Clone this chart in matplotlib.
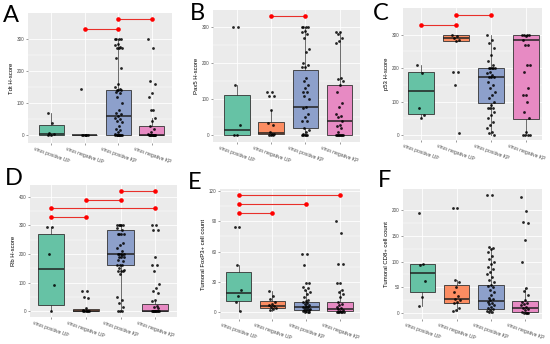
import numpy as np
import matplotlib.pyplot as plt

groups = ["virus positive UP", "virus negative UP", "virus positive KP", "virus negative KP"]
colors = ["#66C2A5", "#FC8D62", "#8DA0CB", "#E78AC3"]

# A - Tdt H-score
tdt_pts = [
    [70, 38, 8, 4, 1, 0],
    [145, 0, 0, 0, 0, 0, 0],
    [300, 300, 300, 300, 285, 280, 275, 270, 270, 270, 240, 210, 160, 150, 145, 140, 140, 140,
     135, 130, 120, 100, 80, 70, 65, 60, 55, 50, 45, 40, 30, 20, 15, 10, 5, 2, 0, 0, 0, 0, 0, 0, 0, 0],
    [300, 270, 170, 160, 130, 120, 80, 80, 55, 45, 30, 20, 10, 5, 2, 0, 0, 0, 0, 0, 0, 0, 0, 0, 0],
]
tdt_box = [(0, 5, 32, 0, 70), (0, 0, 0, 0, 0), (2, 60, 141, 0, 300), (0, 2, 30, 0, 55)]
tdt_sig = [(2, 3, 330), (3, 4, 360)]

# B - Pax5 H-score
pax5_pts = [
    [300, 300, 140, 30, 0, 0],
    [120, 120, 110, 110, 70, 35, 30, 10, 5, 5, 0, 0, 0],
    [300, 300, 300, 300, 290, 285, 280, 270, 240, 230, 200, 195, 190, 190, 160, 150, 140, 130,
     120, 120, 110, 100, 80, 75, 60, 50, 40, 40, 20, 15, 10, 5, 0, 0, 0, 0, 0],
    [285, 285, 280, 270, 260, 255, 160, 155, 150, 140, 120, 90, 80, 60, 55, 50, 40, 30, 25, 20,
     10, 0, 0, 0, 0, 0, 0, 0, 0],
]
pax5_box = [(0, 15, 113, 0, 140), (3, 8, 38, 0, 70), (20, 80, 180, 0, 300), (0, 40, 140, 0, 285)]
pax5_sig = [(2, 3, 330)]

# C - p53 H-score
p53_pts = [
    [210, 185, 80, 60, 50],
    [300, 295, 290, 285, 280, 190, 190, 150, 5],
    [300, 285, 275, 260, 240, 220, 210, 200, 200, 200, 200, 200, 190, 185, 180, 175, 175, 175,
     160, 150, 140, 130, 120, 110, 100, 90, 80, 80, 80, 70, 60, 50, 40, 30, 20, 10, 5, 0],
    [300, 300, 300, 300, 295, 285, 270, 270, 210, 210, 190, 140, 120, 120, 100, 70, 50, 10,
     0, 0, 0, 0],
]
p53_box = [(63, 132, 188, 50, 210), (280, 290, 300, 280, 300), (95, 175, 200, 0, 300), (48, 285, 300, 0, 300)]
p53_sig = [(1, 2, 330), (2, 3, 360)]

# D - Rb H-score
rb_pts = [
    [295, 295, 200, 93, 0],
    [70, 70, 50, 45, 10, 5, 0, 0, 0, 0, 0, 0],
    [300, 300, 300, 300, 300, 290, 285, 270, 270, 270, 270, 240, 230, 220, 210, 200, 200, 200,
     200, 195, 190, 190, 190, 180, 175, 160, 160, 160, 150, 145, 140, 140, 140, 130, 50, 40, 30,
     15, 0, 0, 0],
    [300, 300, 285, 285, 190, 160, 160, 140, 95, 80, 70, 65, 40, 35, 20, 15, 10,
     0, 0, 0, 0, 0, 0, 0, 0, 0, 0],
]
rb_box = [(22, 147, 270, 0, 295), (0, 2, 7, 0, 10), (160, 200, 285, 0, 300), (0, 2, 24, 0, 35)]
rb_sig = [(1, 2, 330), (1, 4, 360), (2, 3, 390), (3, 4, 420)]

# E - Tumoral FoxP3+ cell count
foxp3_pts = [
    [84, 84, 47, 22, 16, 10, 1],
    [21, 16, 13, 10, 8, 7, 6, 5, 4, 3, 2],
    [58, 58, 47, 29, 29, 25, 24, 22, 20, 18, 15, 12, 11, 10, 9, 8, 7, 6, 5, 5, 4, 3, 3, 2, 2,
     1, 1, 0, 0, 0],
    [90, 78, 48, 48, 29, 29, 22, 20, 18, 15, 10, 8, 7, 5, 4, 3, 2, 1, 0, 0, 0, 0, 0, 0],
]
foxp3_box = [(11, 19, 40, 1, 47), (4, 6.5, 11.5, 1, 21), (2, 5, 10.5, 0, 22), (1, 3, 10, 0, 22)]
foxp3_sig = [(1, 2, 98), (1, 3, 107), (1, 4, 116)]

# F - Tumoral CD8+ cell count
cd8_pts = [
    [195, 95, 94, 62, 32, 13],
    [205, 205, 65, 60, 50, 40, 33, 28, 25, 22, 20, 10, 5, 3],
    [230, 230, 128, 127, 125, 118, 110, 105, 100, 95, 90, 85, 80, 75, 70, 65, 60, 55, 52, 50,
     45, 40, 35, 30, 28, 25, 22, 20, 18, 15, 12, 10, 8, 5, 3, 2, 1],
    [225, 198, 178, 175, 142, 100, 48, 42, 35, 25, 22, 20, 18, 15, 12, 10, 8, 5, 2, 0, 0, 0, 0],
]
cd8_box = [(40, 78, 95, 13, 95), (20, 28, 55, 3, 65), (7, 23, 54, 0, 125), (2, 10, 23, 0, 48)]
cd8_sig = []


def draw_panel(ax, pts, box, sig, ylabel, yticks, ylim, xlim):
    ax.set_facecolor("#EBEBEB")
    stats = []
    for q1, med, q3, lo, hi in box:
        stats.append(dict(q1=q1, med=med, q3=q3, whislo=lo, whishi=hi, fliers=[]))
    bp = ax.bxp(stats, positions=[1, 2, 3, 4], widths=0.75, patch_artist=True,
                showfliers=False, showcaps=False,
                boxprops=dict(edgecolor="#333333", linewidth=0.6),
                whiskerprops=dict(color="#333333", linewidth=0.5),
                medianprops=dict(color="#222222", linewidth=1.1))
    for patch, c in zip(bp["boxes"], colors):
        patch.set_facecolor(c)
    # jitter: fixed spread around each group
    for k, vals in enumerate(pts):
        offs = [((i * 0.6180339) % 1 - 0.5) * 0.22 for i in range(len(vals))]
        ax.scatter(np.array(offs) + k + 1, vals, s=4, color="black", alpha=0.85,
                   linewidths=0, zorder=5)
    for a, b, y in sig:
        ax.plot([a, b], [y, y], color="#E8302A", lw=0.8, zorder=6)
        ax.plot([a, b], [y, y], "o", color="#FF0000", ms=3.3, mec="none", zorder=7)
    ax.set_xlim(*xlim)
    ax.set_ylim(*ylim)
    ax.set_xticks([1, 2, 3, 4])
    ax.set_xticklabels(groups, rotation=-20, ha="center", va="top", fontsize=3.6, color="#4D4D4D")
    ax.set_yticks(yticks)
    ax.set_yticklabels([str(t) for t in yticks], fontsize=3.3, color="#4D4D4D")
    minor = [(yticks[i] + yticks[i + 1]) / 2 for i in range(len(yticks) - 1)]
    ax.set_yticks(minor, minor=True)
    ax.tick_params(which="major", length=1.5, width=0.4, color="#4D4D4D", pad=1)
    ax.tick_params(which="minor", length=0)
    ax.grid(which="major", color="white", lw=0.6)
    ax.grid(which="minor", axis="y", color="white", lw=0.3)
    ax.set_axisbelow(True)
    for s in ax.spines.values():
        s.set_visible(False)
    ax.set_ylabel(ylabel, fontsize=4.3, labelpad=2)


plt.rcParams["font.family"] = ["Liberation Sans", "DejaVu Sans"]
fig = plt.figure(figsize=(5.5, 3.44), dpi=100)

axA = fig.add_axes([0.0509, 0.5843, 0.2618, 0.3779])
axB = fig.add_axes([0.3873, 0.5872, 0.2673, 0.3837])
axC = fig.add_axes([0.7327, 0.5930, 0.2527, 0.3837])
axD = fig.add_axes([0.0545, 0.0785, 0.2673, 0.3837])
axE = fig.add_axes([0.4000, 0.0727, 0.2545, 0.3780])
axF = fig.add_axes([0.7327, 0.0727, 0.2527, 0.3780])

draw_panel(axA, tdt_pts, tdt_box, tdt_sig, "Tdt H-score", [0, 100, 200, 300], (-24, 380), (0.3, 4.6))
draw_panel(axB, pax5_pts, pax5_box, pax5_sig, "Pax5 H-score", [0, 100, 200, 300], (-18, 347), (0.3, 4.6))
draw_panel(axC, p53_pts, p53_box, p53_sig, "p53 H-score", [0, 100, 200, 300], (-15, 380), (0.49, 4.45))
draw_panel(axD, rb_pts, rb_box, rb_sig, "Rb H-score", [0, 100, 200, 300, 400], (-20, 441), (0.4, 4.62))
draw_panel(axE, foxp3_pts, foxp3_box, foxp3_sig, "Tumoral FoxP3+ cell count", [0, 30, 60, 90, 120], (-6.6, 122), (0.45, 4.59))
draw_panel(axF, cd8_pts, cd8_box, cd8_sig, "Tumoral CD8+ cell count", [0, 50, 100, 150, 200], (-11.7, 241.5), (0.43, 4.5))

letters = [("A", 3, 5), ("B", 190, 3), ("C", 373, 3), ("D", 5, 168), ("E", 188, 172), ("F", 378, 170)]
for t, x, y in letters:
    fig.text(x / 550, 1 - y / 344, t, fontsize=17, va="top", ha="left", family=["Lato", "DejaVu Sans"])

fig.savefig("out.png", dpi=100)
